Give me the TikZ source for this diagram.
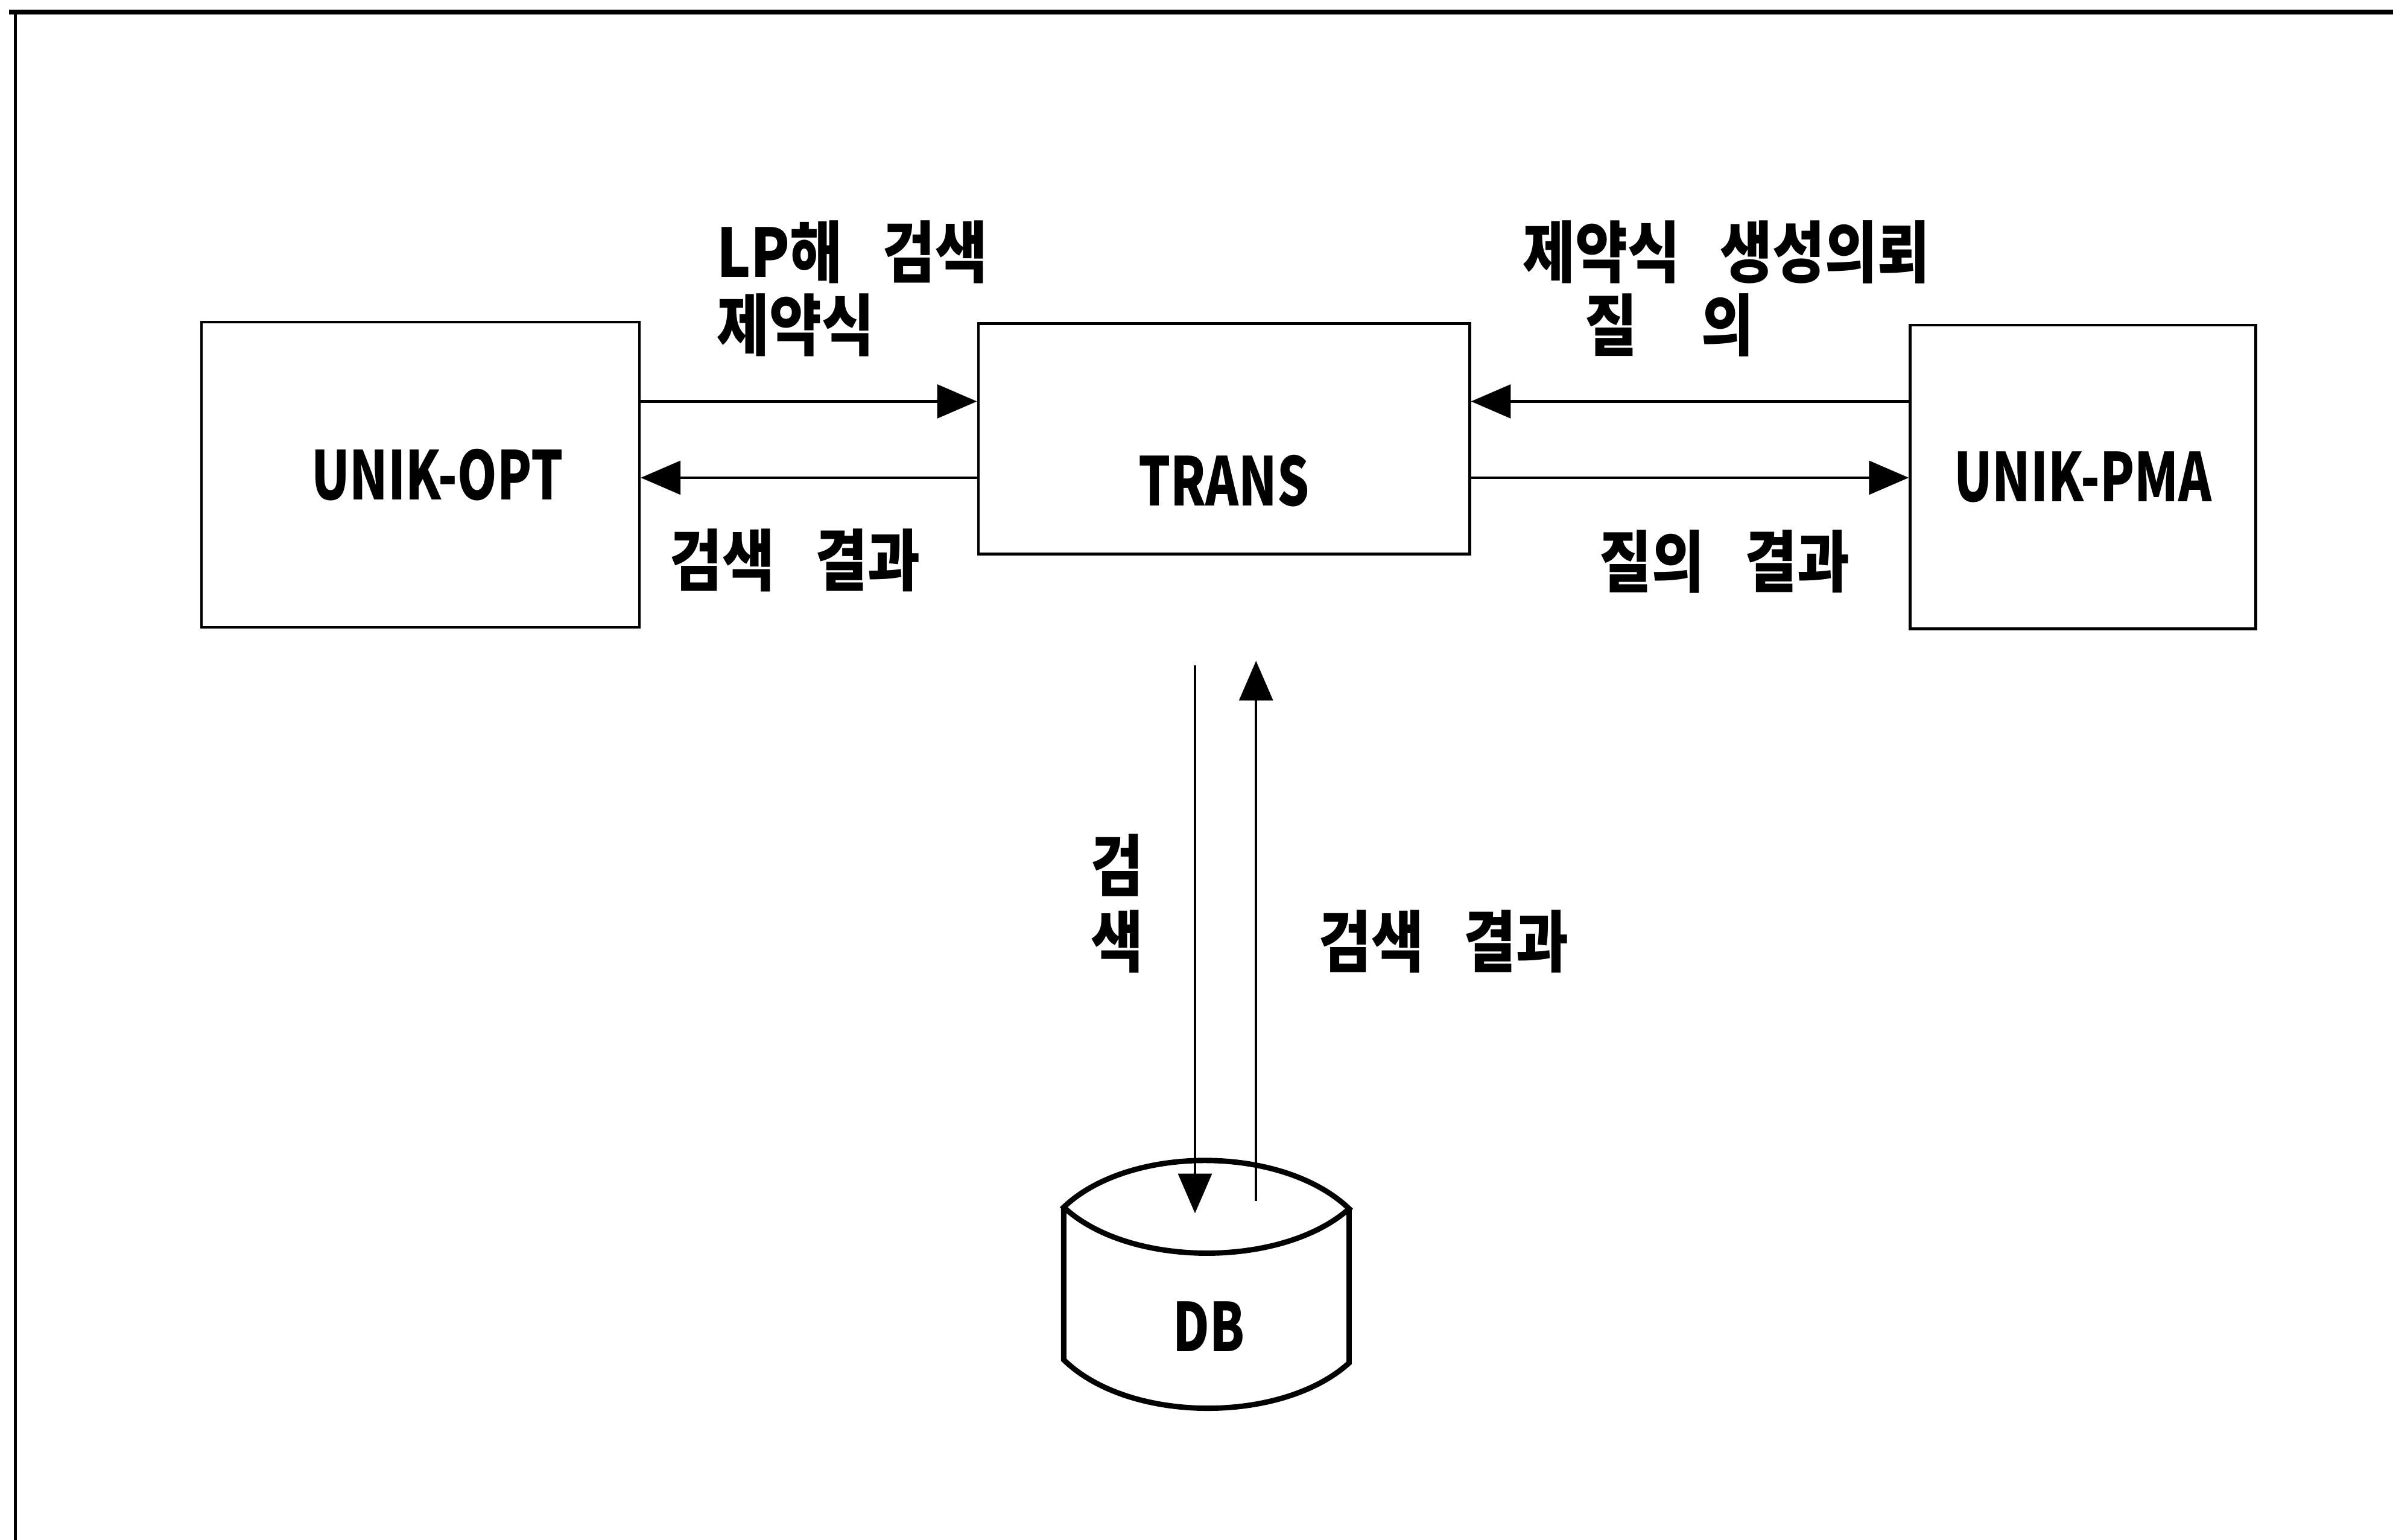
\documentclass[tikz,border=0pt]{standalone}
\usepackage{fontspec}
\setmainfont{Noto Sans CJK KR}[FakeStretch=0.85]
\newfontfamily\narrowfont{Noto Sans CJK KR}[FakeStretch=0.75]
\usetikzlibrary{arrows.meta}
\newcommand{\kfont}{\fontsize{12.5pt}{13.6pt}\selectfont\bfseries\spaceskip=0.6em\relax}
\newcommand{\bfont}{\narrowfont\fontsize{12.5pt}{13.6pt}\selectfont\bfseries}

\begin{document}
\begin{tikzpicture}[
  box/.style={draw, line width=0.5pt, font=\bfont},
  txt/.style={inner sep=0pt, align=left, font=\kfont},
  flow/.style={line width=0.5pt, -{Triangle[length=0.26cm, width=0.22cm]}}]

  \useasboundingbox (0,0) rectangle (15.68,-10.09);
  \draw[line width=0.5pt] (0.10,-10.09) -- (0.10,-0.08);
  \draw[line width=0.9pt] (0.06,-0.08) -- (15.68,-0.08);

  \node[box, minimum width=2.87cm, minimum height=2.00cm] (opt) at (2.755,-3.11) {\hspace*{0.22cm}UNIK-OPT};
  \node[box, minimum width=3.22cm, minimum height=1.51cm,
        text height=0.88cm, text depth=0pt] (trans) at (8.02,-2.875) {TRANS};
  \node[box, minimum width=2.265cm, minimum height=1.99cm] (pma) at (13.648,-3.125) {UNIK-PMA};

  \coordinate (hi) at (0,-2.63);
  \coordinate (lo) at (0,-3.13);
  \draw[flow] (opt.east |- hi) -- (trans.west |- hi);
  \draw[flow] (trans.west |- lo) -- (opt.east |- lo);
  \draw[flow] (pma.west |- hi) -- (trans.east |- hi);
  \draw[flow] (trans.east |- lo) -- (pma.west |- lo);

  \node[txt, anchor=west] (lpsearch) at (4.69,-1.89) {LP해 검색\\제약식};
  \node[txt, anchor=west] (request) at (9.97,-1.89) {제약식 생성의뢰\\\hspace*{0.93em}질\hspace{0.95em}의};
  \node[txt] (optres) at (5.21,-3.67) {검색 결과};
  \node[txt] (pmares) at (11.30,-3.68) {질의 결과};

  \coordinate (qs) at (7.83,-4.36);
  \coordinate (qe) at (7.83,-7.95);
  \coordinate (rs) at (8.23,-7.87);
  \coordinate (re) at (8.23,-4.33);
  \draw[flow] (qs) -- (qe);
  \draw[flow] (rs) -- (re);
  \node[txt, align=center] (query) at (7.32,-5.92) {검\\[0.6pt]색};
  \node[txt] (dbres) at (9.46,-6.17) {검색 결과};

  \draw[line width=1pt] (6.97,-7.91) .. controls (7.40,-7.50) and (8.40,-7.50) .. (8.84,-7.92)
    .. controls (8.40,-8.31) and (7.40,-8.31) .. cycle;
  \draw[line width=1pt] (6.97,-7.91) -- (6.97,-8.91)
    .. controls (7.40,-9.33) and (8.40,-9.33) .. (8.84,-8.93) -- (8.84,-7.92);
  \node[font=\bfont] (db) at (7.92,-8.69) {DB};
\end{tikzpicture}
\end{document}
